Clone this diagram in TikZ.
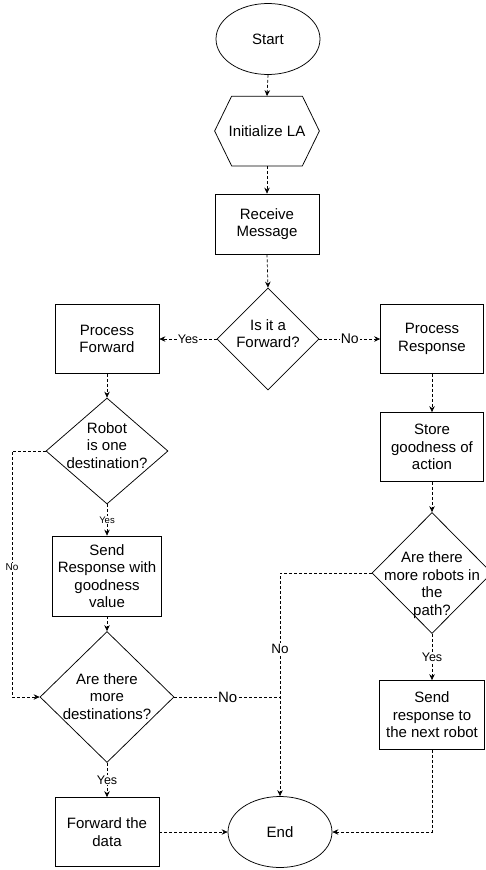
\documentclass[tikz,border=0pt]{standalone}
\usepackage{fontspec}
\setmainfont{Liberation Sans}
\usetikzlibrary{shapes.geometric,arrows.meta}
\definecolor{ink}{HTML}{000000}
\tikzset{
  base/.style={draw=ink, line width=0.75pt, text=ink, font=\fontsize{15}{17.5}\selectfont, align=center},
  term/.style={base, ellipse, minimum width=104pt, minimum height=71pt, inner sep=0pt},
  proc/.style={base, rectangle, minimum width=104pt, minimum height=69pt, inner sep=0pt},
  dec/.style={base, diamond, inner sep=0pt},
  link/.style={draw=ink, line width=0.7pt, dash pattern=on 3pt off 2pt},
  flow/.style={link, -{Stealth[length=6pt,width=5.5pt,inset=2pt]}},
  lab/.style={fill=white, inner sep=1pt, text=ink, font=\fontsize{12.5}{14}\selectfont},
  labs/.style={lab, font=\fontsize{9.5}{11}\selectfont},
  labl/.style={lab, font=\fontsize{14}{16}\selectfont},
}
% text of a decision that may run over its outline
\newcommand{\dtxt}[2][-5pt]{\smash{\raisebox{#1}{\makebox[0pt]{\begin{tabular}{@{}c@{}}#2\end{tabular}}}}}

\begin{document}
\begin{tikzpicture}[x=1pt, y=-1pt]
  \useasboundingbox (0,0) rectangle (485,870);
  \fill[white] (0,0) rectangle (485,870);

  % main column
  \node[term] (start) at (268,39) {Start};
  \node[proc, draw=none] (init) at (267,131) {Initialize LA};
  \draw[ink, line width=0.75pt] ([xshift=17pt]init.north west) -- ([xshift=-17pt]init.north east)
    -- (init.east) -- ([xshift=-17pt]init.south east) -- ([xshift=17pt]init.south west)
    -- (init.west) -- cycle;
  \node[proc, minimum height=60pt] (recv) at (267,224) {Receive\\Message};
  \node[dec, minimum width=102pt, minimum height=102pt] (isfwd) at (268,339) {\dtxt[0pt]{Is it a\\Forward?}};

  % forward branch
  \node[proc] (pfwd) at (107,339) {Process\\Forward};
  \node[dec, minimum width=122pt, minimum height=106pt] (isdest) at (107,451) {\dtxt[0pt]{Robot\\is one\\destination?}};
  \node[proc, minimum width=109pt, minimum height=80pt] (sendr) at (107,576) {Send\\Response with\\goodness\\value};
  \node[dec, minimum width=134pt, minimum height=131pt] (moredest) at (107,697) {\dtxt{Are there\\more\\destinations?}};
  \node[proc] (fdata) at (107,832) {Forward the\\data};

  % response branch
  \node[proc, minimum width=103pt] (presp) at (432,339) {Process\\Response};
  \node[proc, minimum width=103pt] (store) at (432,447) {Store\\goodness of\\action};
  \node[dec, minimum width=120pt, minimum height=121pt] (morebot) at (432,573) {\dtxt[-16pt]{Are there\\more robots in\\the\\path?}};
  \node[proc, minimum width=105pt] (sendn) at (432,715) {Send\\response to\\the next robot};

  \node[term] (end) at (280,832) {End};

  \coordinate (nobend) at (12,451);
  \coordinate (join) at (281,697);

  \foreach \a/\b in {start/init, init/recv, recv/isfwd, pfwd/isdest, sendr/moredest, presp/store, store/morebot}
    \draw[flow] (\a.south) -- (\b.north);
  \draw[flow] (isfwd.west) -- node[lab] {Yes} (pfwd.east);
  \draw[flow] (isfwd.east) -- node[labl] {No} (presp.west);
  \draw[flow] (isdest.south) -- node[labs] {Yes} (sendr.north);
  \draw[flow] (isdest.west) -- (nobend) |- node[labs, pos=0.236, font=\fontsize{10}{12}\selectfont] {No} (moredest.west);
  \draw[link] (moredest.east) -- node[lab, font=\fontsize{15}{17}\selectfont] {No} (join);
  \draw[flow] (morebot.west) -| node[lab, pos=0.67, font=\fontsize{13.5}{15}\selectfont] {No} (end.north);
  \draw[flow] (moredest.south) -- node[lab] {Yes} (fdata.north);
  \draw[flow] (morebot.south) -- node[lab] {Yes} (sendn.north);
  \draw[flow] (fdata.east) -- (end.west);
  \draw[flow] (sendn.south) |- (end.east);
\end{tikzpicture}
\end{document}
